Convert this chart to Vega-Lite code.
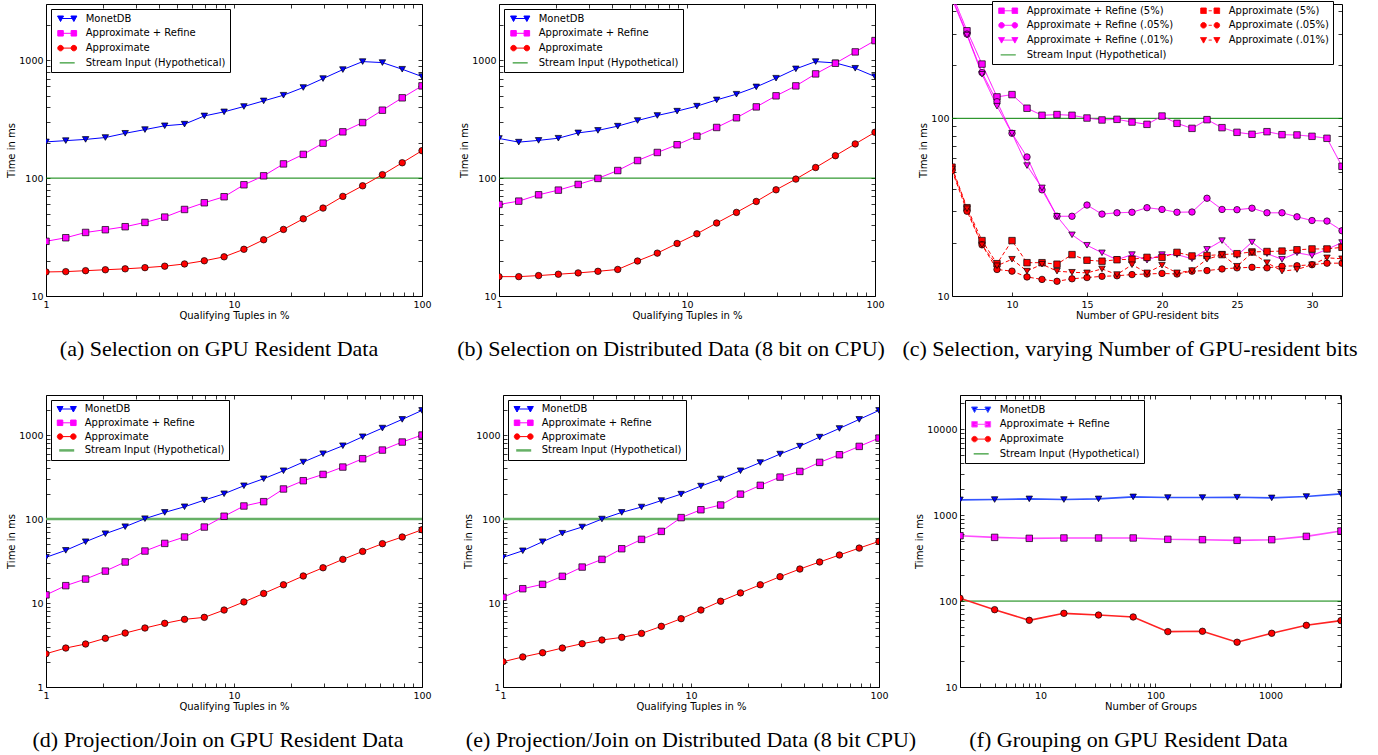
{
"$schema":"https://vega.github.io/schema/vega-lite/v6.json",
"background":"white",
"padding":{"left":6,"top":0,"right":5,"bottom":5},
"config":{
 "view":{"stroke":"#000","strokeWidth":1},
 "axis":{"domain":false,"grid":false,"tickSize":-4,"tickColor":"#000","tickWidth":0.8,"labelFont":"DejaVu Sans","labelFontSize":9.5,"labelColor":"#000","labelPadding":7,"labelFlush":false,"labelOverlap":false,"titleFont":"DejaVu Sans","titleFontSize":10,"titleFontWeight":"normal","titleColor":"#000","titlePadding":2},
 "legend":{"orient":"top-left","offset":5,"padding":4,"rowPadding":3.8,"symbolSize":100,"symbolOffset":6.7,"labelOffset":13,"labelFont":"DejaVu Sans","labelFontSize":10,"labelColor":"#000","labelLimit":400,"strokeColor":"#000","fillColor":"#fff","cornerRadius":0,"symbolStrokeWidth":1,"columnPadding":24},
 "title":{"orient":"bottom","anchor":"middle","frame":"group","font":"Liberation Serif","fontSize":22,"fontWeight":"normal","color":"#000","offset":18}
},
"resolve":{"scale":{"stroke":"independent","fill":"independent","shape":"independent","strokeDash":"independent"},"legend":{"stroke":"independent","fill":"independent","shape":"independent","strokeDash":"independent"}},
"datasets":{
"a":[
{"s":"MonetDB","x":1,"y":203},{"s":"MonetDB","x":1.274,"y":208},{"s":"MonetDB","x":1.624,"y":213},{"s":"MonetDB","x":2.069,"y":221},{"s":"MonetDB","x":2.637,"y":240},{"s":"MonetDB","x":3.36,"y":258},{"s":"MonetDB","x":4.281,"y":278},{"s":"MonetDB","x":5.456,"y":287},{"s":"MonetDB","x":6.952,"y":337},{"s":"MonetDB","x":8.859,"y":365},{"s":"MonetDB","x":11.29,"y":405},{"s":"MonetDB","x":14.38,"y":452},{"s":"MonetDB","x":18.33,"y":505},{"s":"MonetDB","x":23.36,"y":587},{"s":"MonetDB","x":29.76,"y":699},{"s":"MonetDB","x":37.93,"y":833},{"s":"MonetDB","x":48.33,"y":974},{"s":"MonetDB","x":61.58,"y":955},{"s":"MonetDB","x":78.48,"y":839},{"s":"MonetDB","x":100,"y":727},
{"s":"Approximate + Refine","x":1,"y":29.1},{"s":"Approximate + Refine","x":1.274,"y":31.2},{"s":"Approximate + Refine","x":1.624,"y":34.6},{"s":"Approximate + Refine","x":2.069,"y":36.5},{"s":"Approximate + Refine","x":2.637,"y":38.7},{"s":"Approximate + Refine","x":3.36,"y":42.1},{"s":"Approximate + Refine","x":4.281,"y":46.7},{"s":"Approximate + Refine","x":5.456,"y":54.2},{"s":"Approximate + Refine","x":6.952,"y":61.8},{"s":"Approximate + Refine","x":8.859,"y":69.5},{"s":"Approximate + Refine","x":11.29,"y":87.8},{"s":"Approximate + Refine","x":14.38,"y":104.6},{"s":"Approximate + Refine","x":18.33,"y":132},{"s":"Approximate + Refine","x":23.36,"y":159},{"s":"Approximate + Refine","x":29.76,"y":198},{"s":"Approximate + Refine","x":37.93,"y":247},{"s":"Approximate + Refine","x":48.33,"y":296},{"s":"Approximate + Refine","x":61.58,"y":377},{"s":"Approximate + Refine","x":78.48,"y":480},{"s":"Approximate + Refine","x":100,"y":606},
{"s":"Approximate","x":1,"y":16.0},{"s":"Approximate","x":1.274,"y":16.1},{"s":"Approximate","x":1.624,"y":16.4},{"s":"Approximate","x":2.069,"y":16.7},{"s":"Approximate","x":2.637,"y":17.0},{"s":"Approximate","x":3.36,"y":17.4},{"s":"Approximate","x":4.281,"y":17.9},{"s":"Approximate","x":5.456,"y":18.7},{"s":"Approximate","x":6.952,"y":19.9},{"s":"Approximate","x":8.859,"y":21.5},{"s":"Approximate","x":11.29,"y":24.9},{"s":"Approximate","x":14.38,"y":30.0},{"s":"Approximate","x":18.33,"y":36.7},{"s":"Approximate","x":23.36,"y":45.2},{"s":"Approximate","x":29.76,"y":55.7},{"s":"Approximate","x":37.93,"y":70.0},{"s":"Approximate","x":48.33,"y":86.1},{"s":"Approximate","x":61.58,"y":107},{"s":"Approximate","x":78.48,"y":135},{"s":"Approximate","x":100,"y":171},
{"s":"Stream Input (Hypothetical)","x":1,"y":100},{"s":"Stream Input (Hypothetical)","x":100,"y":100}
],
"b":[
{"s":"MonetDB","x":1,"y":217},{"s":"MonetDB","x":1.274,"y":202},{"s":"MonetDB","x":1.624,"y":209},{"s":"MonetDB","x":2.069,"y":218},{"s":"MonetDB","x":2.637,"y":242},{"s":"MonetDB","x":3.36,"y":254},{"s":"MonetDB","x":4.281,"y":276},{"s":"MonetDB","x":5.456,"y":308},{"s":"MonetDB","x":6.952,"y":340},{"s":"MonetDB","x":8.859,"y":370},{"s":"MonetDB","x":11.29,"y":408},{"s":"MonetDB","x":14.38,"y":461},{"s":"MonetDB","x":18.33,"y":515},{"s":"MonetDB","x":23.36,"y":594},{"s":"MonetDB","x":29.76,"y":704},{"s":"MonetDB","x":37.93,"y":845},{"s":"MonetDB","x":48.33,"y":974},{"s":"MonetDB","x":61.58,"y":949},{"s":"MonetDB","x":78.48,"y":855},{"s":"MonetDB","x":100,"y":727},
{"s":"Approximate + Refine","x":1,"y":59.8},{"s":"Approximate + Refine","x":1.274,"y":63.8},{"s":"Approximate + Refine","x":1.624,"y":72.2},{"s":"Approximate + Refine","x":2.069,"y":79.1},{"s":"Approximate + Refine","x":2.637,"y":88.4},{"s":"Approximate + Refine","x":3.36,"y":99.4},{"s":"Approximate + Refine","x":4.281,"y":116},{"s":"Approximate + Refine","x":5.456,"y":141},{"s":"Approximate + Refine","x":6.952,"y":165},{"s":"Approximate + Refine","x":8.859,"y":192},{"s":"Approximate + Refine","x":11.29,"y":227},{"s":"Approximate + Refine","x":14.38,"y":269},{"s":"Approximate + Refine","x":18.33,"y":325},{"s":"Approximate + Refine","x":23.36,"y":402},{"s":"Approximate + Refine","x":29.76,"y":499},{"s":"Approximate + Refine","x":37.93,"y":606},{"s":"Approximate + Refine","x":48.33,"y":766},{"s":"Approximate + Refine","x":61.58,"y":943},{"s":"Approximate + Refine","x":78.48,"y":1177},{"s":"Approximate + Refine","x":100,"y":1468},
{"s":"Approximate","x":1,"y":14.6},{"s":"Approximate","x":1.274,"y":14.6},{"s":"Approximate","x":1.624,"y":14.9},{"s":"Approximate","x":2.069,"y":15.3},{"s":"Approximate","x":2.637,"y":15.7},{"s":"Approximate","x":3.36,"y":16.2},{"s":"Approximate","x":4.281,"y":16.8},{"s":"Approximate","x":5.456,"y":19.8},{"s":"Approximate","x":6.952,"y":23.1},{"s":"Approximate","x":8.859,"y":27.9},{"s":"Approximate","x":11.29,"y":33.7},{"s":"Approximate","x":14.38,"y":41.6},{"s":"Approximate","x":18.33,"y":51.2},{"s":"Approximate","x":23.36,"y":63.4},{"s":"Approximate","x":29.76,"y":79.6},{"s":"Approximate","x":37.93,"y":98.1},{"s":"Approximate","x":48.33,"y":123},{"s":"Approximate","x":61.58,"y":155},{"s":"Approximate","x":78.48,"y":195},{"s":"Approximate","x":100,"y":245},
{"s":"Stream Input (Hypothetical)","x":1,"y":100},{"s":"Stream Input (Hypothetical)","x":100,"y":100}
],
"c":[
{"s":"Approximate + Refine (5%)","x":6,"y":500},{"s":"Approximate + Refine (5%)","x":7,"y":311},{"s":"Approximate + Refine (5%)","x":8,"y":202},{"s":"Approximate + Refine (5%)","x":9,"y":132},{"s":"Approximate + Refine (5%)","x":10,"y":136},{"s":"Approximate + Refine (5%)","x":11,"y":114},{"s":"Approximate + Refine (5%)","x":12,"y":104},{"s":"Approximate + Refine (5%)","x":13,"y":105},{"s":"Approximate + Refine (5%)","x":14,"y":104},{"s":"Approximate + Refine (5%)","x":15,"y":100.4},{"s":"Approximate + Refine (5%)","x":16,"y":97.9},{"s":"Approximate + Refine (5%)","x":17,"y":98.7},{"s":"Approximate + Refine (5%)","x":18,"y":95.3},{"s":"Approximate + Refine (5%)","x":19,"y":92.5},{"s":"Approximate + Refine (5%)","x":20,"y":103},{"s":"Approximate + Refine (5%)","x":21,"y":93.7},{"s":"Approximate + Refine (5%)","x":22,"y":87.8},{"s":"Approximate + Refine (5%)","x":23,"y":98.3},{"s":"Approximate + Refine (5%)","x":24,"y":88.6},{"s":"Approximate + Refine (5%)","x":25,"y":83.4},{"s":"Approximate + Refine (5%)","x":26,"y":81.3},{"s":"Approximate + Refine (5%)","x":27,"y":84.1},{"s":"Approximate + Refine (5%)","x":28,"y":80.9},{"s":"Approximate + Refine (5%)","x":29,"y":80.6},{"s":"Approximate + Refine (5%)","x":30,"y":79.2},{"s":"Approximate + Refine (5%)","x":31,"y":77.2},{"s":"Approximate + Refine (5%)","x":32,"y":53.7},
{"s":"Approximate + Refine (.05%)","x":6,"y":480},{"s":"Approximate + Refine (.05%)","x":7,"y":298},{"s":"Approximate + Refine (.05%)","x":8,"y":181},{"s":"Approximate + Refine (.05%)","x":9,"y":124},{"s":"Approximate + Refine (.05%)","x":10,"y":82.4},{"s":"Approximate + Refine (.05%)","x":11,"y":60.6},{"s":"Approximate + Refine (.05%)","x":12,"y":39.6},{"s":"Approximate + Refine (.05%)","x":13,"y":28.1},{"s":"Approximate + Refine (.05%)","x":14,"y":28.1},{"s":"Approximate + Refine (.05%)","x":15,"y":32.5},{"s":"Approximate + Refine (.05%)","x":16,"y":28.9},{"s":"Approximate + Refine (.05%)","x":17,"y":29.4},{"s":"Approximate + Refine (.05%)","x":18,"y":29.6},{"s":"Approximate + Refine (.05%)","x":19,"y":31.4},{"s":"Approximate + Refine (.05%)","x":20,"y":30.7},{"s":"Approximate + Refine (.05%)","x":21,"y":29.6},{"s":"Approximate + Refine (.05%)","x":22,"y":29.7},{"s":"Approximate + Refine (.05%)","x":23,"y":35.5},{"s":"Approximate + Refine (.05%)","x":24,"y":30.7},{"s":"Approximate + Refine (.05%)","x":25,"y":30.6},{"s":"Approximate + Refine (.05%)","x":26,"y":31.2},{"s":"Approximate + Refine (.05%)","x":27,"y":29.4},{"s":"Approximate + Refine (.05%)","x":28,"y":29.4},{"s":"Approximate + Refine (.05%)","x":29,"y":27.9},{"s":"Approximate + Refine (.05%)","x":30,"y":26.6},{"s":"Approximate + Refine (.05%)","x":31,"y":26.4},{"s":"Approximate + Refine (.05%)","x":32,"y":23.3},
{"s":"Approximate + Refine (.01%)","x":6,"y":470},{"s":"Approximate + Refine (.01%)","x":7,"y":294},{"s":"Approximate + Refine (.01%)","x":8,"y":177},{"s":"Approximate + Refine (.01%)","x":9,"y":117},{"s":"Approximate + Refine (.01%)","x":10,"y":82.4},{"s":"Approximate + Refine (.01%)","x":11,"y":54.2},{"s":"Approximate + Refine (.01%)","x":12,"y":40.6},{"s":"Approximate + Refine (.01%)","x":13,"y":28.1},{"s":"Approximate + Refine (.01%)","x":14,"y":22.1},{"s":"Approximate + Refine (.01%)","x":15,"y":19.3},{"s":"Approximate + Refine (.01%)","x":16,"y":17.5},{"s":"Approximate + Refine (.01%)","x":17,"y":16.0},{"s":"Approximate + Refine (.01%)","x":18,"y":17.1},{"s":"Approximate + Refine (.01%)","x":19,"y":15.9},{"s":"Approximate + Refine (.01%)","x":20,"y":17.1},{"s":"Approximate + Refine (.01%)","x":21,"y":17.1},{"s":"Approximate + Refine (.01%)","x":22,"y":16.2},{"s":"Approximate + Refine (.01%)","x":23,"y":18.3},{"s":"Approximate + Refine (.01%)","x":24,"y":20.5},{"s":"Approximate + Refine (.01%)","x":25,"y":16.9},{"s":"Approximate + Refine (.01%)","x":26,"y":20.1},{"s":"Approximate + Refine (.01%)","x":27,"y":17.3},{"s":"Approximate + Refine (.01%)","x":28,"y":16.1},{"s":"Approximate + Refine (.01%)","x":29,"y":17.5},{"s":"Approximate + Refine (.01%)","x":30,"y":16.9},{"s":"Approximate + Refine (.01%)","x":31,"y":18.3},{"s":"Approximate + Refine (.01%)","x":32,"y":20.0},
{"s":"Approximate (5%)","x":6,"y":53.1},{"s":"Approximate (5%)","x":7,"y":31.4},{"s":"Approximate (5%)","x":8,"y":20.5},{"s":"Approximate (5%)","x":9,"y":15.2},{"s":"Approximate (5%)","x":10,"y":20.5},{"s":"Approximate (5%)","x":11,"y":15.4},{"s":"Approximate (5%)","x":12,"y":15.4},{"s":"Approximate (5%)","x":13,"y":15.1},{"s":"Approximate (5%)","x":14,"y":17.1},{"s":"Approximate (5%)","x":15,"y":15.9},{"s":"Approximate (5%)","x":16,"y":15.7},{"s":"Approximate (5%)","x":17,"y":16.0},{"s":"Approximate (5%)","x":18,"y":16.1},{"s":"Approximate (5%)","x":19,"y":16.5},{"s":"Approximate (5%)","x":20,"y":16.5},{"s":"Approximate (5%)","x":21,"y":17.6},{"s":"Approximate (5%)","x":22,"y":16.8},{"s":"Approximate (5%)","x":23,"y":16.9},{"s":"Approximate (5%)","x":24,"y":17.1},{"s":"Approximate (5%)","x":25,"y":17.3},{"s":"Approximate (5%)","x":26,"y":17.7},{"s":"Approximate (5%)","x":27,"y":17.8},{"s":"Approximate (5%)","x":28,"y":17.9},{"s":"Approximate (5%)","x":29,"y":18.2},{"s":"Approximate (5%)","x":30,"y":18.4},{"s":"Approximate (5%)","x":31,"y":18.4},{"s":"Approximate (5%)","x":32,"y":18.8},
{"s":"Approximate (.05%)","x":6,"y":50.8},{"s":"Approximate (.05%)","x":7,"y":30.0},{"s":"Approximate (.05%)","x":8,"y":19.4},{"s":"Approximate (.05%)","x":9,"y":14.1},{"s":"Approximate (.05%)","x":10,"y":13.8},{"s":"Approximate (.05%)","x":11,"y":12.8},{"s":"Approximate (.05%)","x":12,"y":12.4},{"s":"Approximate (.05%)","x":13,"y":12.1},{"s":"Approximate (.05%)","x":14,"y":12.5},{"s":"Approximate (.05%)","x":15,"y":12.7},{"s":"Approximate (.05%)","x":16,"y":12.9},{"s":"Approximate (.05%)","x":17,"y":13.0},{"s":"Approximate (.05%)","x":18,"y":13.2},{"s":"Approximate (.05%)","x":19,"y":13.3},{"s":"Approximate (.05%)","x":20,"y":13.4},{"s":"Approximate (.05%)","x":21,"y":13.3},{"s":"Approximate (.05%)","x":22,"y":13.8},{"s":"Approximate (.05%)","x":23,"y":13.9},{"s":"Approximate (.05%)","x":24,"y":14.2},{"s":"Approximate (.05%)","x":25,"y":14.4},{"s":"Approximate (.05%)","x":26,"y":14.5},{"s":"Approximate (.05%)","x":27,"y":14.4},{"s":"Approximate (.05%)","x":28,"y":14.7},{"s":"Approximate (.05%)","x":29,"y":14.8},{"s":"Approximate (.05%)","x":30,"y":15.0},{"s":"Approximate (.05%)","x":31,"y":15.3},{"s":"Approximate (.05%)","x":32,"y":15.3},
{"s":"Approximate (.01%)","x":6,"y":51.9},{"s":"Approximate (.01%)","x":7,"y":31.0},{"s":"Approximate (.01%)","x":8,"y":19.4},{"s":"Approximate (.01%)","x":9,"y":14.8},{"s":"Approximate (.01%)","x":10,"y":16.1},{"s":"Approximate (.01%)","x":11,"y":13.8},{"s":"Approximate (.01%)","x":12,"y":15.1},{"s":"Approximate (.01%)","x":13,"y":13.8},{"s":"Approximate (.01%)","x":14,"y":13.6},{"s":"Approximate (.01%)","x":15,"y":13.5},{"s":"Approximate (.01%)","x":16,"y":14.2},{"s":"Approximate (.01%)","x":17,"y":13.2},{"s":"Approximate (.01%)","x":18,"y":15.0},{"s":"Approximate (.01%)","x":19,"y":13.5},{"s":"Approximate (.01%)","x":20,"y":14.9},{"s":"Approximate (.01%)","x":21,"y":13.5},{"s":"Approximate (.01%)","x":22,"y":13.9},{"s":"Approximate (.01%)","x":23,"y":16.1},{"s":"Approximate (.01%)","x":24,"y":17.1},{"s":"Approximate (.01%)","x":25,"y":14.7},{"s":"Approximate (.01%)","x":26,"y":17.5},{"s":"Approximate (.01%)","x":27,"y":15.4},{"s":"Approximate (.01%)","x":28,"y":13.8},{"s":"Approximate (.01%)","x":29,"y":14.1},{"s":"Approximate (.01%)","x":30,"y":15.0},{"s":"Approximate (.01%)","x":31,"y":16.4},{"s":"Approximate (.01%)","x":32,"y":16.2},
{"s":"Stream Input (Hypothetical)","x":6,"y":100},{"s":"Stream Input (Hypothetical)","x":32,"y":100}
],
"d":[
{"s":"MonetDB","x":1,"y":35.0},{"s":"MonetDB","x":1.274,"y":42.4},{"s":"MonetDB","x":1.624,"y":53.7},{"s":"MonetDB","x":2.069,"y":66.9},{"s":"MonetDB","x":2.637,"y":81.1},{"s":"MonetDB","x":3.36,"y":101},{"s":"MonetDB","x":4.281,"y":120},{"s":"MonetDB","x":5.456,"y":140},{"s":"MonetDB","x":6.952,"y":168},{"s":"MonetDB","x":8.859,"y":200},{"s":"MonetDB","x":11.29,"y":249},{"s":"MonetDB","x":14.38,"y":302},{"s":"MonetDB","x":18.33,"y":376},{"s":"MonetDB","x":23.36,"y":477},{"s":"MonetDB","x":29.76,"y":600},{"s":"MonetDB","x":37.93,"y":746},{"s":"MonetDB","x":48.33,"y":955},{"s":"MonetDB","x":61.58,"y":1211},{"s":"MonetDB","x":78.48,"y":1537},{"s":"MonetDB","x":100,"y":1966},
{"s":"Approximate + Refine","x":1,"y":12.5},{"s":"Approximate + Refine","x":1.274,"y":16.1},{"s":"Approximate + Refine","x":1.624,"y":19.3},{"s":"Approximate + Refine","x":2.069,"y":24.0},{"s":"Approximate + Refine","x":2.637,"y":30.8},{"s":"Approximate + Refine","x":3.36,"y":41.6},{"s":"Approximate + Refine","x":4.281,"y":51.3},{"s":"Approximate + Refine","x":5.456,"y":61.1},{"s":"Approximate + Refine","x":6.952,"y":80.3},{"s":"Approximate + Refine","x":8.859,"y":108},{"s":"Approximate + Refine","x":11.29,"y":143},{"s":"Approximate + Refine","x":14.38,"y":161},{"s":"Approximate + Refine","x":18.33,"y":228},{"s":"Approximate + Refine","x":23.36,"y":286},{"s":"Approximate + Refine","x":29.76,"y":340},{"s":"Approximate + Refine","x":37.93,"y":416},{"s":"Approximate + Refine","x":48.33,"y":523},{"s":"Approximate + Refine","x":61.58,"y":663},{"s":"Approximate + Refine","x":78.48,"y":826},{"s":"Approximate + Refine","x":100,"y":1000},
{"s":"Approximate","x":1,"y":2.49},{"s":"Approximate","x":1.274,"y":2.91},{"s":"Approximate","x":1.624,"y":3.25},{"s":"Approximate","x":2.069,"y":3.80},{"s":"Approximate","x":2.637,"y":4.39},{"s":"Approximate","x":3.36,"y":5.04},{"s":"Approximate","x":4.281,"y":5.73},{"s":"Approximate","x":5.456,"y":6.39},{"s":"Approximate","x":6.952,"y":6.75},{"s":"Approximate","x":8.859,"y":8.25},{"s":"Approximate","x":11.29,"y":10.3},{"s":"Approximate","x":14.38,"y":13.0},{"s":"Approximate","x":18.33,"y":16.5},{"s":"Approximate","x":23.36,"y":21.0},{"s":"Approximate","x":29.76,"y":26.3},{"s":"Approximate","x":37.93,"y":33.1},{"s":"Approximate","x":48.33,"y":41.2},{"s":"Approximate","x":61.58,"y":50.9},{"s":"Approximate","x":78.48,"y":61.1},{"s":"Approximate","x":100,"y":74.6},
{"s":"Stream Input (Hypothetical)","x":1,"y":100},{"s":"Stream Input (Hypothetical)","x":100,"y":100}
],
"e":[
{"s":"MonetDB","x":1,"y":35.0},{"s":"MonetDB","x":1.274,"y":41.9},{"s":"MonetDB","x":1.624,"y":53.7},{"s":"MonetDB","x":2.069,"y":67.8},{"s":"MonetDB","x":2.637,"y":80.4},{"s":"MonetDB","x":3.36,"y":100},{"s":"MonetDB","x":4.281,"y":120},{"s":"MonetDB","x":5.456,"y":139},{"s":"MonetDB","x":6.952,"y":166},{"s":"MonetDB","x":8.859,"y":198},{"s":"MonetDB","x":11.29,"y":247},{"s":"MonetDB","x":14.38,"y":300},{"s":"MonetDB","x":18.33,"y":376},{"s":"MonetDB","x":23.36,"y":471},{"s":"MonetDB","x":29.76,"y":594},{"s":"MonetDB","x":37.93,"y":738},{"s":"MonetDB","x":48.33,"y":946},{"s":"MonetDB","x":61.58,"y":1199},{"s":"MonetDB","x":78.48,"y":1537},{"s":"MonetDB","x":100,"y":1966},
{"s":"Approximate + Refine","x":1,"y":11.7},{"s":"Approximate + Refine","x":1.274,"y":14.8},{"s":"Approximate + Refine","x":1.624,"y":16.7},{"s":"Approximate + Refine","x":2.069,"y":20.8},{"s":"Approximate + Refine","x":2.637,"y":26.8},{"s":"Approximate + Refine","x":3.36,"y":33.1},{"s":"Approximate + Refine","x":4.281,"y":44.3},{"s":"Approximate + Refine","x":5.456,"y":57.3},{"s":"Approximate + Refine","x":6.952,"y":71.3},{"s":"Approximate + Refine","x":8.859,"y":104},{"s":"Approximate + Refine","x":11.29,"y":129},{"s":"Approximate + Refine","x":14.38,"y":147},{"s":"Approximate + Refine","x":18.33,"y":198},{"s":"Approximate + Refine","x":23.36,"y":252},{"s":"Approximate + Refine","x":29.76,"y":316},{"s":"Approximate + Refine","x":37.93,"y":369},{"s":"Approximate + Refine","x":48.33,"y":473},{"s":"Approximate + Refine","x":61.58,"y":583},{"s":"Approximate + Refine","x":78.48,"y":733},{"s":"Approximate + Refine","x":100,"y":921},
{"s":"Approximate","x":1,"y":2.00},{"s":"Approximate","x":1.274,"y":2.28},{"s":"Approximate","x":1.624,"y":2.56},{"s":"Approximate","x":2.069,"y":2.91},{"s":"Approximate","x":2.637,"y":3.28},{"s":"Approximate","x":3.36,"y":3.63},{"s":"Approximate","x":4.281,"y":3.90},{"s":"Approximate","x":5.456,"y":4.35},{"s":"Approximate","x":6.952,"y":5.28},{"s":"Approximate","x":8.859,"y":6.51},{"s":"Approximate","x":11.29,"y":8.25},{"s":"Approximate","x":14.38,"y":10.5},{"s":"Approximate","x":18.33,"y":13.2},{"s":"Approximate","x":23.36,"y":16.5},{"s":"Approximate","x":29.76,"y":20.6},{"s":"Approximate","x":37.93,"y":25.4},{"s":"Approximate","x":48.33,"y":30.8},{"s":"Approximate","x":61.58,"y":37.3},{"s":"Approximate","x":78.48,"y":45.1},{"s":"Approximate","x":100,"y":54.2},
{"s":"Stream Input (Hypothetical)","x":1,"y":100},{"s":"Stream Input (Hypothetical)","x":100,"y":100}
],
"f":[
{"s":"MonetDB","x":2,"y":1506},{"s":"MonetDB","x":4,"y":1518},{"s":"MonetDB","x":8,"y":1546},{"s":"MonetDB","x":16,"y":1518},{"s":"MonetDB","x":32,"y":1546},{"s":"MonetDB","x":64,"y":1631},{"s":"MonetDB","x":128,"y":1602},{"s":"MonetDB","x":256,"y":1602},{"s":"MonetDB","x":512,"y":1616},{"s":"MonetDB","x":1024,"y":1587},{"s":"MonetDB","x":2048,"y":1645},{"s":"MonetDB","x":4096,"y":1767},
{"s":"Approximate + Refine","x":2,"y":576},{"s":"Approximate + Refine","x":4,"y":551},{"s":"Approximate + Refine","x":8,"y":537},{"s":"Approximate + Refine","x":16,"y":542},{"s":"Approximate + Refine","x":32,"y":542},{"s":"Approximate + Refine","x":64,"y":542},{"s":"Approximate + Refine","x":128,"y":523},{"s":"Approximate + Refine","x":256,"y":518},{"s":"Approximate + Refine","x":512,"y":509},{"s":"Approximate + Refine","x":1024,"y":518},{"s":"Approximate + Refine","x":2048,"y":566},{"s":"Approximate + Refine","x":4096,"y":653},
{"s":"Approximate","x":2,"y":108},{"s":"Approximate","x":4,"y":79.4},{"s":"Approximate","x":8,"y":59.7},{"s":"Approximate","x":16,"y":72.0},{"s":"Approximate","x":32,"y":68.8},{"s":"Approximate","x":64,"y":65.3},{"s":"Approximate","x":128,"y":44.1},{"s":"Approximate","x":256,"y":44.5},{"s":"Approximate","x":512,"y":33.2},{"s":"Approximate","x":1024,"y":42.2},{"s":"Approximate","x":2048,"y":52.2},{"s":"Approximate","x":4096,"y":59.2},
{"s":"Stream Input (Hypothetical)","x":2,"y":100},{"s":"Stream Input (Hypothetical)","x":4096,"y":100}
]
},
"spacing":34,
"vconcat":[
{"hconcat":[
{"width":376,"height":292,"title":{"text":"(a) Selection on GPU Resident Data","dx":-15},"data":{"name":"a"},
"resolve":{"axis":{"x":"independent","y":"independent"}},
"encoding":{"x":{"field":"x","type":"quantitative","scale":{"type":"log","domain":[1,100],"nice":false},"axis":null},"y":{"field":"y","type":"quantitative","scale":{"type":"log","domain":[10,3000],"nice":false},"axis":null}},
"layer":[
{"transform":[{"filter":"datum.s==='Stream Input (Hypothetical)'"}],"mark":{"type":"line","color":"#008000","strokeWidth":1,"clip":true}},
{"transform":[{"filter":"datum.s!=='Stream Input (Hypothetical)'"}],"mark":{"type":"line","strokeWidth":1,"clip":true},
"encoding":{
"x":{"field":"x","type":"quantitative","scale":{"type":"log","domain":[1,100],"nice":false},"axis":{"orient":"bottom","values":[1,2,3,4,5,6,7,8,9,10,20,30,40,50,60,70,80,90,100],"format":"d","labelExpr":"datum.value==1||datum.value==10||datum.value==100||datum.value==1000||datum.value==10000?datum.label:''","title":"Qualifying Tuples in %","encode":{"ticks":{"update":{"y2":{"signal":"abs(log(datum.value)/LN10-round(log(datum.value)/LN10))<0.01?-4:-2"}}}}}},
"y":{"field":"y","type":"quantitative","scale":{"type":"log","domain":[10,3000],"nice":false},"axis":{"orient":"left","values":[10,20,30,40,50,60,70,80,90,100,200,300,400,500,600,700,800,900,1000,2000],"format":"d","labelExpr":"datum.value==1||datum.value==10||datum.value==100||datum.value==1000||datum.value==10000?datum.label:''","title":"Time in ms","encode":{"ticks":{"update":{"x2":{"signal":"abs(log(datum.value)/LN10-round(log(datum.value)/LN10))<0.01?4:2"}}}}}},
"stroke":{"field":"s","type":"nominal","scale":{"domain":["MonetDB","Approximate + Refine","Approximate","Stream Input (Hypothetical)"],"range":["#0000ff","#ff00ff","#ff0000","#008000"]},
"legend":{"title":null,"encode":{"symbols":{"update":{"size":{"value":100},"shape":{"signal":"datum.value==='MonetDB'?'M-1.333,0H1.333M-1.933,-0.5L-0.733,-0.5L-1.333,0.6ZM0.733,-0.5L1.933,-0.5L1.333,0.6Z':datum.value==='Approximate + Refine'?'M-1.333,0H1.333M-1.883,-0.55H-0.783V0.55H-1.883ZM0.783,-0.55H1.883V0.55H0.783Z':datum.value==='Approximate'?'M-1.333,0H1.333M-1.883,0A0.55,0.55,0,1,0,-0.783,0A0.55,0.55,0,1,0,-1.883,0ZM0.783,0A0.55,0.55,0,1,0,1.883,0A0.55,0.55,0,1,0,0.783,0Z':'M-1.5,0H1.5'"},"fill":{"signal":"datum.value==='MonetDB'?'#0000ff':datum.value==='Approximate + Refine'?'#ff00ff':datum.value==='Approximate'?'#ff0000':'#008000'"},"stroke":{"signal":"datum.value==='MonetDB'?'#0000ff':datum.value==='Approximate + Refine'?'#ff00ff':datum.value==='Approximate'?'#ff0000':'#008000'"},"strokeWidth":{"value":1},"opacity":{"value":1}}}}}}
}},
{"transform":[{"filter":"datum.s!=='Stream Input (Hypothetical)'"}],"mark":{"type":"point","filled":true,"stroke":"#000","strokeWidth":0.7,"size":42,"opacity":1,"clip":true},
"encoding":{"fill":{"field":"s","type":"nominal","scale":{"domain":["MonetDB","Approximate + Refine","Approximate"],"range":["#0000ff","#ff00ff","#ff0000"]},"legend":null},"shape":{"field":"s","type":"nominal","scale":{"domain":["MonetDB","Approximate + Refine","Approximate"],"range":["triangle-down","square","circle"]},"legend":null}}},
{"mark":{"type":"point","opacity":0,"clip":true},
"encoding":{
"x":{"field":"x","type":"quantitative","scale":{"type":"log","domain":[1,100],"nice":false},"axis":{"orient":"top","values":[1,2,3,4,5,6,7,8,9,10,20,30,40,50,60,70,80,90,100],"labels":false,"title":null,"encode":{"ticks":{"update":{"y2":{"signal":"abs(log(datum.value)/LN10-round(log(datum.value)/LN10))<0.01?4:2"}}}}}},
"y":{"field":"y","type":"quantitative","scale":{"type":"log","domain":[10,3000],"nice":false},"axis":{"orient":"right","values":[10,20,30,40,50,60,70,80,90,100,200,300,400,500,600,700,800,900,1000,2000],"labels":false,"title":null,"encode":{"ticks":{"update":{"x2":{"signal":"abs(log(datum.value)/LN10-round(log(datum.value)/LN10))<0.01?-4:-2"}}}}}}
}}
]},
{"width":376,"height":292,"title":{"text":"(b) Selection on Distributed Data (8 bit on CPU)","dx":-16},"data":{"name":"b"},
"resolve":{"axis":{"x":"independent","y":"independent"}},
"encoding":{"x":{"field":"x","type":"quantitative","scale":{"type":"log","domain":[1,100],"nice":false},"axis":null},"y":{"field":"y","type":"quantitative","scale":{"type":"log","domain":[10,3000],"nice":false},"axis":null}},
"layer":[
{"transform":[{"filter":"datum.s==='Stream Input (Hypothetical)'"}],"mark":{"type":"line","color":"#008000","strokeWidth":1,"clip":true}},
{"transform":[{"filter":"datum.s!=='Stream Input (Hypothetical)'"}],"mark":{"type":"line","strokeWidth":1,"clip":true},
"encoding":{
"x":{"field":"x","type":"quantitative","scale":{"type":"log","domain":[1,100],"nice":false},"axis":{"orient":"bottom","values":[1,2,3,4,5,6,7,8,9,10,20,30,40,50,60,70,80,90,100],"format":"d","labelExpr":"datum.value==1||datum.value==10||datum.value==100||datum.value==1000||datum.value==10000?datum.label:''","title":"Qualifying Tuples in %","encode":{"ticks":{"update":{"y2":{"signal":"abs(log(datum.value)/LN10-round(log(datum.value)/LN10))<0.01?-4:-2"}}}}}},
"y":{"field":"y","type":"quantitative","scale":{"type":"log","domain":[10,3000],"nice":false},"axis":{"orient":"left","values":[10,20,30,40,50,60,70,80,90,100,200,300,400,500,600,700,800,900,1000,2000],"format":"d","labelExpr":"datum.value==1||datum.value==10||datum.value==100||datum.value==1000||datum.value==10000?datum.label:''","title":"Time in ms","encode":{"ticks":{"update":{"x2":{"signal":"abs(log(datum.value)/LN10-round(log(datum.value)/LN10))<0.01?4:2"}}}}}},
"stroke":{"field":"s","type":"nominal","scale":{"domain":["MonetDB","Approximate + Refine","Approximate","Stream Input (Hypothetical)"],"range":["#0000ff","#ff00ff","#ff0000","#008000"]},
"legend":{"title":null,"encode":{"symbols":{"update":{"size":{"value":100},"shape":{"signal":"datum.value==='MonetDB'?'M-1.333,0H1.333M-1.933,-0.5L-0.733,-0.5L-1.333,0.6ZM0.733,-0.5L1.933,-0.5L1.333,0.6Z':datum.value==='Approximate + Refine'?'M-1.333,0H1.333M-1.883,-0.55H-0.783V0.55H-1.883ZM0.783,-0.55H1.883V0.55H0.783Z':datum.value==='Approximate'?'M-1.333,0H1.333M-1.883,0A0.55,0.55,0,1,0,-0.783,0A0.55,0.55,0,1,0,-1.883,0ZM0.783,0A0.55,0.55,0,1,0,1.883,0A0.55,0.55,0,1,0,0.783,0Z':'M-1.5,0H1.5'"},"fill":{"signal":"datum.value==='MonetDB'?'#0000ff':datum.value==='Approximate + Refine'?'#ff00ff':datum.value==='Approximate'?'#ff0000':'#008000'"},"stroke":{"signal":"datum.value==='MonetDB'?'#0000ff':datum.value==='Approximate + Refine'?'#ff00ff':datum.value==='Approximate'?'#ff0000':'#008000'"},"strokeWidth":{"value":1},"opacity":{"value":1}}}}}}
}},
{"transform":[{"filter":"datum.s!=='Stream Input (Hypothetical)'"}],"mark":{"type":"point","filled":true,"stroke":"#000","strokeWidth":0.7,"size":42,"opacity":1,"clip":true},
"encoding":{"fill":{"field":"s","type":"nominal","scale":{"domain":["MonetDB","Approximate + Refine","Approximate"],"range":["#0000ff","#ff00ff","#ff0000"]},"legend":null},"shape":{"field":"s","type":"nominal","scale":{"domain":["MonetDB","Approximate + Refine","Approximate"],"range":["triangle-down","square","circle"]},"legend":null}}},
{"mark":{"type":"point","opacity":0,"clip":true},
"encoding":{
"x":{"field":"x","type":"quantitative","scale":{"type":"log","domain":[1,100],"nice":false},"axis":{"orient":"top","values":[1,2,3,4,5,6,7,8,9,10,20,30,40,50,60,70,80,90,100],"labels":false,"title":null,"encode":{"ticks":{"update":{"y2":{"signal":"abs(log(datum.value)/LN10-round(log(datum.value)/LN10))<0.01?4:2"}}}}}},
"y":{"field":"y","type":"quantitative","scale":{"type":"log","domain":[10,3000],"nice":false},"axis":{"orient":"right","values":[10,20,30,40,50,60,70,80,90,100,200,300,400,500,600,700,800,900,1000,2000],"labels":false,"title":null,"encode":{"ticks":{"update":{"x2":{"signal":"abs(log(datum.value)/LN10-round(log(datum.value)/LN10))<0.01?-4:-2"}}}}}}
}}
]},
{"width":390,"height":292,"title":{"text":"(c) Selection, varying Number of GPU-resident bits","dx":-17},"data":{"name":"c"},
"resolve":{"axis":{"x":"independent","y":"independent"}},
"encoding":{"x":{"field":"x","type":"quantitative","scale":{"domain":[6,32],"nice":false,"zero":false},"axis":null},"y":{"field":"y","type":"quantitative","scale":{"type":"log","domain":[10,440],"nice":false},"axis":null}},
"layer":[
{"transform":[{"filter":"datum.s==='Stream Input (Hypothetical)'"}],"mark":{"type":"line","color":"#008000","strokeWidth":1,"clip":true}},
{"transform":[{"filter":"datum.s!=='Stream Input (Hypothetical)'"}],"mark":{"type":"line","strokeWidth":1,"clip":true},
"encoding":{
"x":{"field":"x","type":"quantitative","scale":{"domain":[6,32],"nice":false,"zero":false},"axis":{"orient":"bottom","values":[10,15,20,25,30],"title":"Number of GPU-resident bits"}},
"y":{"field":"y","type":"quantitative","scale":{"type":"log","domain":[10,440],"nice":false},"axis":{"orient":"left","values":[10,20,30,40,50,60,70,80,90,100,200,300,400],"format":"d","labelExpr":"datum.value==1||datum.value==10||datum.value==100||datum.value==1000||datum.value==10000?datum.label:''","title":"Time in ms","encode":{"ticks":{"update":{"x2":{"signal":"abs(log(datum.value)/LN10-round(log(datum.value)/LN10))<0.01?4:2"}}}}}},
"strokeDash":{"field":"s","type":"nominal","scale":{"domain":["Approximate + Refine (5%)","Approximate (5%)","Approximate + Refine (.05%)","Approximate (.05%)","Approximate + Refine (.01%)","Approximate (.01%)"],"range":[[1,0],[4,2.5],[1,0],[4,2.5],[1,0],[4,2.5]]},"legend":null},
"stroke":{"field":"s","type":"nominal","scale":{"domain":["Approximate + Refine (5%)","Approximate + Refine (.05%)","Approximate + Refine (.01%)","Stream Input (Hypothetical)","Approximate (5%)","Approximate (.05%)","Approximate (.01%)"],"range":["#ff00ff","#ff00ff","#ff00ff","#008000","#ff0000","#ff0000","#ff0000"]},
"legend":{"title":null,"orient":"none","legendX":40,"legendY":-3,"columns":2,"encode":{"symbols":{"update":{"size":{"value":100},"shape":{"signal":"indexof(datum.value,'Stream')>=0?'M-1.5,0H1.5':(indexof(datum.value,'Refine')>=0?'M-1.333,0H1.333':'M-0.3,0H0.3')+(indexof(datum.value,'(5%)')>=0?'M-1.883,-0.55H-0.783V0.55H-1.883ZM0.783,-0.55H1.883V0.55H0.783Z':indexof(datum.value,'(.05%)')>=0?'M-1.883,0A0.55,0.55,0,1,0,-0.783,0A0.55,0.55,0,1,0,-1.883,0ZM0.783,0A0.55,0.55,0,1,0,1.883,0A0.55,0.55,0,1,0,0.783,0Z':'M-1.933,-0.5L-0.733,-0.5L-1.333,0.6ZM0.733,-0.5L1.933,-0.5L1.333,0.6Z')"},"fill":{"signal":"indexof(datum.value,'Stream')>=0?'#008000':indexof(datum.value,'Refine')>=0?'#ff00ff':'#ff0000'"},"stroke":{"signal":"indexof(datum.value,'Stream')>=0?'#008000':indexof(datum.value,'Refine')>=0?'#ff00ff':'#ff0000'"},"strokeWidth":{"value":1},"strokeDash":{"value":[1,0]},"opacity":{"value":1}}}}}}
}},
{"transform":[{"filter":"datum.s!=='Stream Input (Hypothetical)'"}],"mark":{"type":"point","filled":true,"stroke":"#000","strokeWidth":0.7,"size":42,"opacity":1,"clip":true},
"encoding":{"fill":{"field":"s","type":"nominal","scale":{"domain":["Approximate + Refine (5%)","Approximate (5%)","Approximate + Refine (.05%)","Approximate (.05%)","Approximate + Refine (.01%)","Approximate (.01%)"],"range":["#ff00ff","#ff0000","#ff00ff","#ff0000","#ff00ff","#ff0000"]},"legend":null},"shape":{"field":"s","type":"nominal","scale":{"domain":["Approximate + Refine (5%)","Approximate (5%)","Approximate + Refine (.05%)","Approximate (.05%)","Approximate + Refine (.01%)","Approximate (.01%)"],"range":["square","square","circle","circle","triangle-down","triangle-down"]},"legend":null}}},
{"mark":{"type":"point","opacity":0,"clip":true},
"encoding":{
"x":{"field":"x","type":"quantitative","scale":{"domain":[6,32],"nice":false,"zero":false},"axis":{"orient":"top","values":[10,15,20,25,30],"labels":false,"title":null}},
"y":{"field":"y","type":"quantitative","scale":{"type":"log","domain":[10,440],"nice":false},"axis":{"orient":"right","values":[10,20,30,40,50,60,70,80,90,100,200,300,400],"labels":false,"title":null,"encode":{"ticks":{"update":{"x2":{"signal":"abs(log(datum.value)/LN10-round(log(datum.value)/LN10))<0.01?-4:-2"}}}}}}
}}
]}
],"bounds":"flush","spacing":77,"resolve":{"scale":{"stroke":"independent","fill":"independent","shape":"independent","strokeDash":"independent"},"legend":{"stroke":"independent","fill":"independent","shape":"independent","strokeDash":"independent"}}},
{"hconcat":[
{"width":376,"height":292,"title":{"text":"(d) Projection/Join on GPU Resident Data","dx":-16},"data":{"name":"d"},
"resolve":{"axis":{"x":"independent","y":"independent"}},
"encoding":{"x":{"field":"x","type":"quantitative","scale":{"type":"log","domain":[1,100],"nice":false},"axis":null},"y":{"field":"y","type":"quantitative","scale":{"type":"log","domain":[1,3000],"nice":false},"axis":null}},
"layer":[
{"transform":[{"filter":"datum.s==='Stream Input (Hypothetical)'"}],"mark":{"type":"line","color":"#66b066","strokeWidth":2.5,"clip":true}},
{"transform":[{"filter":"datum.s!=='Stream Input (Hypothetical)'"}],"mark":{"type":"line","strokeWidth":1,"clip":true},
"encoding":{
"x":{"field":"x","type":"quantitative","scale":{"type":"log","domain":[1,100],"nice":false},"axis":{"orient":"bottom","values":[1,2,3,4,5,6,7,8,9,10,20,30,40,50,60,70,80,90,100],"format":"d","labelExpr":"datum.value==1||datum.value==10||datum.value==100||datum.value==1000||datum.value==10000?datum.label:''","title":"Qualifying Tuples in %","encode":{"ticks":{"update":{"y2":{"signal":"abs(log(datum.value)/LN10-round(log(datum.value)/LN10))<0.01?-4:-2"}}}}}},
"y":{"field":"y","type":"quantitative","scale":{"type":"log","domain":[1,3000],"nice":false},"axis":{"orient":"left","values":[1,2,3,4,5,6,7,8,9,10,20,30,40,50,60,70,80,90,100,200,300,400,500,600,700,800,900,1000,2000],"format":"d","labelExpr":"datum.value==1||datum.value==10||datum.value==100||datum.value==1000||datum.value==10000?datum.label:''","title":"Time in ms","encode":{"ticks":{"update":{"x2":{"signal":"abs(log(datum.value)/LN10-round(log(datum.value)/LN10))<0.01?4:2"}}}}}},
"stroke":{"field":"s","type":"nominal","scale":{"domain":["MonetDB","Approximate + Refine","Approximate","Stream Input (Hypothetical)"],"range":["#0000ff","#ff00ff","#ff0000","#66b066"]},
"legend":{"title":null,"encode":{"symbols":{"update":{"size":{"value":100},"shape":{"signal":"datum.value==='MonetDB'?'M-1.333,0H1.333M-1.933,-0.5L-0.733,-0.5L-1.333,0.6ZM0.733,-0.5L1.933,-0.5L1.333,0.6Z':datum.value==='Approximate + Refine'?'M-1.333,0H1.333M-1.883,-0.55H-0.783V0.55H-1.883ZM0.783,-0.55H1.883V0.55H0.783Z':datum.value==='Approximate'?'M-1.333,0H1.333M-1.883,0A0.55,0.55,0,1,0,-0.783,0A0.55,0.55,0,1,0,-1.883,0ZM0.783,0A0.55,0.55,0,1,0,1.883,0A0.55,0.55,0,1,0,0.783,0Z':'M-1.5,0H1.5'"},"fill":{"signal":"datum.value==='MonetDB'?'#0000ff':datum.value==='Approximate + Refine'?'#ff00ff':datum.value==='Approximate'?'#ff0000':'#66b066'"},"stroke":{"signal":"datum.value==='MonetDB'?'#0000ff':datum.value==='Approximate + Refine'?'#ff00ff':datum.value==='Approximate'?'#ff0000':'#66b066'"},"strokeWidth":{"signal":"datum.value==='Stream Input (Hypothetical)'?2.5:1"},"opacity":{"value":1}}}}}}
}},
{"transform":[{"filter":"datum.s!=='Stream Input (Hypothetical)'"}],"mark":{"type":"point","filled":true,"stroke":"#000","strokeWidth":0.7,"size":42,"opacity":1,"clip":true},
"encoding":{"fill":{"field":"s","type":"nominal","scale":{"domain":["MonetDB","Approximate + Refine","Approximate"],"range":["#0000ff","#ff00ff","#ff0000"]},"legend":null},"shape":{"field":"s","type":"nominal","scale":{"domain":["MonetDB","Approximate + Refine","Approximate"],"range":["triangle-down","square","circle"]},"legend":null}}},
{"mark":{"type":"point","opacity":0,"clip":true},
"encoding":{
"x":{"field":"x","type":"quantitative","scale":{"type":"log","domain":[1,100],"nice":false},"axis":{"orient":"top","values":[1,2,3,4,5,6,7,8,9,10,20,30,40,50,60,70,80,90,100],"labels":false,"title":null,"encode":{"ticks":{"update":{"y2":{"signal":"abs(log(datum.value)/LN10-round(log(datum.value)/LN10))<0.01?4:2"}}}}}},
"y":{"field":"y","type":"quantitative","scale":{"type":"log","domain":[1,3000],"nice":false},"axis":{"orient":"right","values":[1,2,3,4,5,6,7,8,9,10,20,30,40,50,60,70,80,90,100,200,300,400,500,600,700,800,900,1000,2000],"labels":false,"title":null,"encode":{"ticks":{"update":{"x2":{"signal":"abs(log(datum.value)/LN10-round(log(datum.value)/LN10))<0.01?-4:-2"}}}}}}
}}
]},
{"width":376,"height":292,"title":{"text":"(e) Projection/Join on Distributed Data (8 bit CPU)","dx":0},"data":{"name":"e"},
"resolve":{"axis":{"x":"independent","y":"independent"}},
"encoding":{"x":{"field":"x","type":"quantitative","scale":{"type":"log","domain":[1,100],"nice":false},"axis":null},"y":{"field":"y","type":"quantitative","scale":{"type":"log","domain":[1,3000],"nice":false},"axis":null}},
"layer":[
{"transform":[{"filter":"datum.s==='Stream Input (Hypothetical)'"}],"mark":{"type":"line","color":"#66b066","strokeWidth":2.5,"clip":true}},
{"transform":[{"filter":"datum.s!=='Stream Input (Hypothetical)'"}],"mark":{"type":"line","strokeWidth":1,"clip":true},
"encoding":{
"x":{"field":"x","type":"quantitative","scale":{"type":"log","domain":[1,100],"nice":false},"axis":{"orient":"bottom","values":[1,2,3,4,5,6,7,8,9,10,20,30,40,50,60,70,80,90,100],"format":"d","labelExpr":"datum.value==1||datum.value==10||datum.value==100||datum.value==1000||datum.value==10000?datum.label:''","title":"Qualifying Tuples in %","encode":{"ticks":{"update":{"y2":{"signal":"abs(log(datum.value)/LN10-round(log(datum.value)/LN10))<0.01?-4:-2"}}}}}},
"y":{"field":"y","type":"quantitative","scale":{"type":"log","domain":[1,3000],"nice":false},"axis":{"orient":"left","values":[1,2,3,4,5,6,7,8,9,10,20,30,40,50,60,70,80,90,100,200,300,400,500,600,700,800,900,1000,2000],"format":"d","labelExpr":"datum.value==1||datum.value==10||datum.value==100||datum.value==1000||datum.value==10000?datum.label:''","title":"Time in ms","encode":{"ticks":{"update":{"x2":{"signal":"abs(log(datum.value)/LN10-round(log(datum.value)/LN10))<0.01?4:2"}}}}}},
"stroke":{"field":"s","type":"nominal","scale":{"domain":["MonetDB","Approximate + Refine","Approximate","Stream Input (Hypothetical)"],"range":["#0000ff","#ff00ff","#ff0000","#66b066"]},
"legend":{"title":null,"encode":{"symbols":{"update":{"size":{"value":100},"shape":{"signal":"datum.value==='MonetDB'?'M-1.333,0H1.333M-1.933,-0.5L-0.733,-0.5L-1.333,0.6ZM0.733,-0.5L1.933,-0.5L1.333,0.6Z':datum.value==='Approximate + Refine'?'M-1.333,0H1.333M-1.883,-0.55H-0.783V0.55H-1.883ZM0.783,-0.55H1.883V0.55H0.783Z':datum.value==='Approximate'?'M-1.333,0H1.333M-1.883,0A0.55,0.55,0,1,0,-0.783,0A0.55,0.55,0,1,0,-1.883,0ZM0.783,0A0.55,0.55,0,1,0,1.883,0A0.55,0.55,0,1,0,0.783,0Z':'M-1.5,0H1.5'"},"fill":{"signal":"datum.value==='MonetDB'?'#0000ff':datum.value==='Approximate + Refine'?'#ff00ff':datum.value==='Approximate'?'#ff0000':'#66b066'"},"stroke":{"signal":"datum.value==='MonetDB'?'#0000ff':datum.value==='Approximate + Refine'?'#ff00ff':datum.value==='Approximate'?'#ff0000':'#66b066'"},"strokeWidth":{"signal":"datum.value==='Stream Input (Hypothetical)'?2.5:1"},"opacity":{"value":1}}}}}}
}},
{"transform":[{"filter":"datum.s!=='Stream Input (Hypothetical)'"}],"mark":{"type":"point","filled":true,"stroke":"#000","strokeWidth":0.7,"size":42,"opacity":1,"clip":true},
"encoding":{"fill":{"field":"s","type":"nominal","scale":{"domain":["MonetDB","Approximate + Refine","Approximate"],"range":["#0000ff","#ff00ff","#ff0000"]},"legend":null},"shape":{"field":"s","type":"nominal","scale":{"domain":["MonetDB","Approximate + Refine","Approximate"],"range":["triangle-down","square","circle"]},"legend":null}}},
{"mark":{"type":"point","opacity":0,"clip":true},
"encoding":{
"x":{"field":"x","type":"quantitative","scale":{"type":"log","domain":[1,100],"nice":false},"axis":{"orient":"top","values":[1,2,3,4,5,6,7,8,9,10,20,30,40,50,60,70,80,90,100],"labels":false,"title":null,"encode":{"ticks":{"update":{"y2":{"signal":"abs(log(datum.value)/LN10-round(log(datum.value)/LN10))<0.01?4:2"}}}}}},
"y":{"field":"y","type":"quantitative","scale":{"type":"log","domain":[1,3000],"nice":false},"axis":{"orient":"right","values":[1,2,3,4,5,6,7,8,9,10,20,30,40,50,60,70,80,90,100,200,300,400,500,600,700,800,900,1000,2000],"labels":false,"title":null,"encode":{"ticks":{"update":{"x2":{"signal":"abs(log(datum.value)/LN10-round(log(datum.value)/LN10))<0.01?-4:-2"}}}}}}
}}
]},
{"width":381,"height":292,"title":{"text":"(f) Grouping on GPU Resident Data","dx":-22},"data":{"name":"f"},
"resolve":{"axis":{"x":"independent","y":"independent"}},
"encoding":{"x":{"field":"x","type":"quantitative","scale":{"type":"log","domain":[2,4096],"nice":false},"axis":null},"y":{"field":"y","type":"quantitative","scale":{"type":"log","domain":[10,25000],"nice":false},"axis":null}},
"layer":[
{"transform":[{"filter":"datum.s==='Stream Input (Hypothetical)'"}],"mark":{"type":"line","color":"#008000","strokeWidth":1,"clip":true}},
{"transform":[{"filter":"datum.s!=='Stream Input (Hypothetical)'"}],"mark":{"type":"line","strokeWidth":1.6,"clip":true},
"encoding":{
"x":{"field":"x","type":"quantitative","scale":{"type":"log","domain":[2,4096],"nice":false},"axis":{"orient":"bottom","values":[2,3,4,5,6,7,8,9,10,20,30,40,50,60,70,80,90,100,200,300,400,500,600,700,800,900,1000,2000,3000,4000],"format":"d","labelExpr":"datum.value==1||datum.value==10||datum.value==100||datum.value==1000||datum.value==10000?datum.label:''","title":"Number of Groups","encode":{"ticks":{"update":{"y2":{"signal":"abs(log(datum.value)/LN10-round(log(datum.value)/LN10))<0.01?-4:-2"}}}}}},
"y":{"field":"y","type":"quantitative","scale":{"type":"log","domain":[10,25000],"nice":false},"axis":{"orient":"left","values":[10,20,30,40,50,60,70,80,90,100,200,300,400,500,600,700,800,900,1000,2000,3000,4000,5000,6000,7000,8000,9000,10000,20000],"format":"d","labelExpr":"datum.value==1||datum.value==10||datum.value==100||datum.value==1000||datum.value==10000?datum.label:''","title":"Time in ms","encode":{"ticks":{"update":{"x2":{"signal":"abs(log(datum.value)/LN10-round(log(datum.value)/LN10))<0.01?4:2"}}}}}},
"stroke":{"field":"s","type":"nominal","scale":{"domain":["MonetDB","Approximate + Refine","Approximate","Stream Input (Hypothetical)"],"range":["#3355ff","#ff4dff","#ff2222","#008000"]},
"legend":{"title":null,"encode":{"symbols":{"update":{"size":{"value":100},"shape":{"signal":"datum.value==='MonetDB'?'M-1.333,0H1.333M-1.933,-0.5L-0.733,-0.5L-1.333,0.6ZM0.733,-0.5L1.933,-0.5L1.333,0.6Z':datum.value==='Approximate + Refine'?'M-1.333,0H1.333M-1.883,-0.55H-0.783V0.55H-1.883ZM0.783,-0.55H1.883V0.55H0.783Z':datum.value==='Approximate'?'M-1.333,0H1.333M-1.883,0A0.55,0.55,0,1,0,-0.783,0A0.55,0.55,0,1,0,-1.883,0ZM0.783,0A0.55,0.55,0,1,0,1.883,0A0.55,0.55,0,1,0,0.783,0Z':'M-1.5,0H1.5'"},"fill":{"signal":"datum.value==='MonetDB'?'#0000ff':datum.value==='Approximate + Refine'?'#ff00ff':datum.value==='Approximate'?'#ff0000':'#008000'"},"stroke":{"signal":"datum.value==='MonetDB'?'#0000ff':datum.value==='Approximate + Refine'?'#ff00ff':datum.value==='Approximate'?'#ff0000':'#008000'"},"strokeWidth":{"value":1},"opacity":{"value":1}}}}}}
}},
{"transform":[{"filter":"datum.s!=='Stream Input (Hypothetical)'"}],"mark":{"type":"point","filled":true,"stroke":"#000","strokeWidth":0.7,"size":42,"opacity":1,"clip":true},
"encoding":{"fill":{"field":"s","type":"nominal","scale":{"domain":["MonetDB","Approximate + Refine","Approximate"],"range":["#0000ff","#ff00ff","#ff0000"]},"legend":null},"shape":{"field":"s","type":"nominal","scale":{"domain":["MonetDB","Approximate + Refine","Approximate"],"range":["triangle-down","square","circle"]},"legend":null}}},
{"mark":{"type":"point","opacity":0,"clip":true},
"encoding":{
"x":{"field":"x","type":"quantitative","scale":{"type":"log","domain":[2,4096],"nice":false},"axis":{"orient":"top","values":[2,3,4,5,6,7,8,9,10,20,30,40,50,60,70,80,90,100,200,300,400,500,600,700,800,900,1000,2000,3000,4000],"labels":false,"title":null,"encode":{"ticks":{"update":{"y2":{"signal":"abs(log(datum.value)/LN10-round(log(datum.value)/LN10))<0.01?4:2"}}}}}},
"y":{"field":"y","type":"quantitative","scale":{"type":"log","domain":[10,25000],"nice":false},"axis":{"orient":"right","values":[10,20,30,40,50,60,70,80,90,100,200,300,400,500,600,700,800,900,1000,2000,3000,4000,5000,6000,7000,8000,9000,10000,20000],"labels":false,"title":null,"encode":{"ticks":{"update":{"x2":{"signal":"abs(log(datum.value)/LN10-round(log(datum.value)/LN10))<0.01?-4:-2"}}}}}}
}}
]}
],"bounds":"flush","spacing":81,"resolve":{"scale":{"stroke":"independent","fill":"independent","shape":"independent","strokeDash":"independent"},"legend":{"stroke":"independent","fill":"independent","shape":"independent","strokeDash":"independent"}}}
]
}
